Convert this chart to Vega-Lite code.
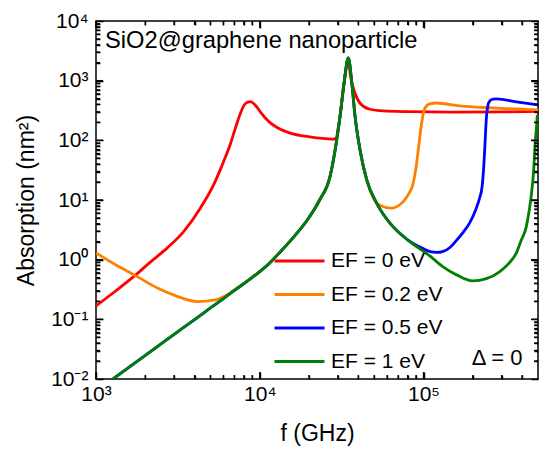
{
  "$schema": "https://vega.github.io/schema/vega-lite/v6.json",
  "width": 442,
  "height": 358,
  "autosize": {"type": "none"},
  "padding": {"left": 96, "top": 21, "right": 6, "bottom": 70},
  "background": "white",
  "config": {
    "font": "Liberation Sans",
    "view": {"stroke": "black", "strokeWidth": 1.5},
    "axis": {"domain": false, "ticks": false, "zindex": 1, "gridColor": "#000000", "gridOpacity": 1, "gridWidth": 1.4, "labelColor": "black", "titleColor": "black", "labelFont": "Liberation Sans", "titleFont": "Liberation Sans", "titleFontWeight": "normal", "labelFlush": false, "labelOverlap": false},
    "legend": {"orient": "none", "legendX": 177, "legendY": 225, "padding": 0, "labelFontSize": 21, "labelFont": "Liberation Sans", "labelColor": "black", "symbolType": "stroke", "symbolSize": 2500, "symbolStrokeWidth": 2.8, "labelOffset": 5, "clipHeight": 30, "rowPadding": 3.5, "labelLimit": 0}
  },
  "datasets": {
    "xmajor": [{"t": 1000}, {"t": 10000}, {"t": 100000}],
    "xminor": [{"t": 2000}, {"t": 3000}, {"t": 4000}, {"t": 5000}, {"t": 6000}, {"t": 7000}, {"t": 8000}, {"t": 9000}, {"t": 20000}, {"t": 30000}, {"t": 40000}, {"t": 50000}, {"t": 60000}, {"t": 70000}, {"t": 80000}, {"t": 90000}, {"t": 200000}, {"t": 300000}, {"t": 400000}],
    "ymajor": [{"t": 0.1}, {"t": 1}, {"t": 10}, {"t": 100}, {"t": 1000}],
    "yminor": [{"t": 0.02}, {"t": 0.03}, {"t": 0.04}, {"t": 0.05}, {"t": 0.06}, {"t": 0.07}, {"t": 0.08}, {"t": 0.09}, {"t": 0.2}, {"t": 0.3}, {"t": 0.4}, {"t": 0.5}, {"t": 0.6}, {"t": 0.7}, {"t": 0.8}, {"t": 0.9}, {"t": 2}, {"t": 3}, {"t": 4}, {"t": 5}, {"t": 6}, {"t": 7}, {"t": 8}, {"t": 9}, {"t": 20}, {"t": 30}, {"t": 40}, {"t": 50}, {"t": 60}, {"t": 70}, {"t": 80}, {"t": 90}, {"t": 200}, {"t": 300}, {"t": 400}, {"t": 500}, {"t": 600}, {"t": 700}, {"t": 800}, {"t": 900}, {"t": 2000}, {"t": 3000}, {"t": 4000}, {"t": 5000}, {"t": 6000}, {"t": 7000}, {"t": 8000}, {"t": 9000}],
    "curves": [
      {"series": "EF = 0 eV", "f": 1000, "A": 0.168},
      {"series": "EF = 0 eV", "f": 1300, "A": 0.29},
      {"series": "EF = 0 eV", "f": 1740, "A": 0.55},
      {"series": "EF = 0 eV", "f": 2146, "A": 0.91},
      {"series": "EF = 0 eV", "f": 2716, "A": 1.56},
      {"series": "EF = 0 eV", "f": 3428, "A": 2.96},
      {"series": "EF = 0 eV", "f": 4335, "A": 7.3},
      {"series": "EF = 0 eV", "f": 5224, "A": 17.9},
      {"series": "EF = 0 eV", "f": 6012, "A": 44},
      {"series": "EF = 0 eV", "f": 6607, "A": 86},
      {"series": "EF = 0 eV", "f": 7086, "A": 158},
      {"series": "EF = 0 eV", "f": 7603, "A": 280},
      {"series": "EF = 0 eV", "f": 8152, "A": 410},
      {"series": "EF = 0 eV", "f": 8743, "A": 445},
      {"series": "EF = 0 eV", "f": 9375, "A": 392},
      {"series": "EF = 0 eV", "f": 10060, "A": 303},
      {"series": "EF = 0 eV", "f": 11000, "A": 225},
      {"series": "EF = 0 eV", "f": 11500, "A": 200},
      {"series": "EF = 0 eV", "f": 13000, "A": 160},
      {"series": "EF = 0 eV", "f": 15200, "A": 133},
      {"series": "EF = 0 eV", "f": 20200, "A": 114},
      {"series": "EF = 0 eV", "f": 27900, "A": 105},
      {"series": "EF = 0 eV", "f": 29300, "A": 108},
      {"series": "EF = 0 eV", "f": 30000, "A": 150},
      {"series": "EF = 0 eV", "f": 30900, "A": 250},
      {"series": "EF = 0 eV", "f": 32700, "A": 903},
      {"series": "EF = 0 eV", "f": 34740, "A": 2400},
      {"series": "EF = 0 eV", "f": 35600, "A": 1330},
      {"series": "EF = 0 eV", "f": 38200, "A": 615},
      {"series": "EF = 0 eV", "f": 40960, "A": 418},
      {"series": "EF = 0 eV", "f": 47100, "A": 332},
      {"series": "EF = 0 eV", "f": 56800, "A": 311},
      {"series": "EF = 0 eV", "f": 80000, "A": 303},
      {"series": "EF = 0 eV", "f": 150000, "A": 298},
      {"series": "EF = 0 eV", "f": 300000, "A": 300},
      {"series": "EF = 0 eV", "f": 500000, "A": 305},

      {"series": "EF = 0.2 eV", "f": 1000, "A": 1.3},
      {"series": "EF = 0.2 eV", "f": 1280, "A": 0.86},
      {"series": "EF = 0.2 eV", "f": 1740, "A": 0.54},
      {"series": "EF = 0.2 eV", "f": 2370, "A": 0.335},
      {"series": "EF = 0.2 eV", "f": 3050, "A": 0.25},
      {"series": "EF = 0.2 eV", "f": 4160, "A": 0.198},
      {"series": "EF = 0.2 eV", "f": 5360, "A": 0.212},
      {"series": "EF = 0.2 eV", "f": 6610, "A": 0.278},
      {"series": "EF = 0.2 eV", "f": 7550, "A": 0.36},
      {"series": "EF = 0.2 eV", "f": 8500, "A": 0.45},
      {"series": "EF = 0.2 eV", "f": 10000, "A": 0.63},
      {"series": "EF = 0.2 eV", "f": 11500, "A": 0.88},
      {"series": "EF = 0.2 eV", "f": 13500, "A": 1.4},
      {"series": "EF = 0.2 eV", "f": 15900, "A": 2.3},
      {"series": "EF = 0.2 eV", "f": 19600, "A": 4.7},
      {"series": "EF = 0.2 eV", "f": 23200, "A": 10},
      {"series": "EF = 0.2 eV", "f": 26850, "A": 24.7},
      {"series": "EF = 0.2 eV", "f": 28850, "A": 69},
      {"series": "EF = 0.2 eV", "f": 30900, "A": 250},
      {"series": "EF = 0.2 eV", "f": 32700, "A": 903},
      {"series": "EF = 0.2 eV", "f": 34740, "A": 2400},
      {"series": "EF = 0.2 eV", "f": 36500, "A": 903},
      {"series": "EF = 0.2 eV", "f": 38200, "A": 250},
      {"series": "EF = 0.2 eV", "f": 40960, "A": 69},
      {"series": "EF = 0.2 eV", "f": 45000, "A": 21.7},
      {"series": "EF = 0.2 eV", "f": 51800, "A": 8.8},
      {"series": "EF = 0.2 eV", "f": 55000, "A": 8.0},
      {"series": "EF = 0.2 eV", "f": 58500, "A": 7.5},
      {"series": "EF = 0.2 eV", "f": 63800, "A": 7.3},
      {"series": "EF = 0.2 eV", "f": 69500, "A": 7.9},
      {"series": "EF = 0.2 eV", "f": 75200, "A": 9.4},
      {"series": "EF = 0.2 eV", "f": 81000, "A": 12.5},
      {"series": "EF = 0.2 eV", "f": 86500, "A": 19.1},
      {"series": "EF = 0.2 eV", "f": 90000, "A": 35},
      {"series": "EF = 0.2 eV", "f": 92900, "A": 69},
      {"series": "EF = 0.2 eV", "f": 97300, "A": 193},
      {"series": "EF = 0.2 eV", "f": 101900, "A": 345},
      {"series": "EF = 0.2 eV", "f": 109000, "A": 408},
      {"series": "EF = 0.2 eV", "f": 120000, "A": 422},
      {"series": "EF = 0.2 eV", "f": 166000, "A": 377},
      {"series": "EF = 0.2 eV", "f": 264000, "A": 349},
      {"series": "EF = 0.2 eV", "f": 500000, "A": 323},

      {"series": "EF = 0.5 eV", "f": 1000, "A": 0.0062},
      {"series": "EF = 0.5 eV", "f": 1270, "A": 0.01},
      {"series": "EF = 0.5 eV", "f": 2000, "A": 0.025},
      {"series": "EF = 0.5 eV", "f": 3000, "A": 0.056},
      {"series": "EF = 0.5 eV", "f": 4000, "A": 0.099},
      {"series": "EF = 0.5 eV", "f": 5000, "A": 0.155},
      {"series": "EF = 0.5 eV", "f": 6000, "A": 0.223},
      {"series": "EF = 0.5 eV", "f": 7550, "A": 0.355},
      {"series": "EF = 0.5 eV", "f": 8500, "A": 0.45},
      {"series": "EF = 0.5 eV", "f": 10000, "A": 0.63},
      {"series": "EF = 0.5 eV", "f": 11500, "A": 0.88},
      {"series": "EF = 0.5 eV", "f": 13500, "A": 1.4},
      {"series": "EF = 0.5 eV", "f": 15900, "A": 2.3},
      {"series": "EF = 0.5 eV", "f": 19600, "A": 4.7},
      {"series": "EF = 0.5 eV", "f": 23200, "A": 10},
      {"series": "EF = 0.5 eV", "f": 26850, "A": 24.7},
      {"series": "EF = 0.5 eV", "f": 28850, "A": 69},
      {"series": "EF = 0.5 eV", "f": 30900, "A": 250},
      {"series": "EF = 0.5 eV", "f": 32700, "A": 903},
      {"series": "EF = 0.5 eV", "f": 34740, "A": 2400},
      {"series": "EF = 0.5 eV", "f": 36500, "A": 903},
      {"series": "EF = 0.5 eV", "f": 38200, "A": 250},
      {"series": "EF = 0.5 eV", "f": 40960, "A": 69},
      {"series": "EF = 0.5 eV", "f": 45000, "A": 21.7},
      {"series": "EF = 0.5 eV", "f": 51800, "A": 8.8},
      {"series": "EF = 0.5 eV", "f": 62400, "A": 4.08},
      {"series": "EF = 0.5 eV", "f": 80000, "A": 2.15},
      {"series": "EF = 0.5 eV", "f": 98600, "A": 1.55},
      {"series": "EF = 0.5 eV", "f": 110000, "A": 1.36},
      {"series": "EF = 0.5 eV", "f": 120000, "A": 1.32},
      {"series": "EF = 0.5 eV", "f": 132000, "A": 1.38},
      {"series": "EF = 0.5 eV", "f": 145000, "A": 1.6},
      {"series": "EF = 0.5 eV", "f": 159000, "A": 2.1},
      {"series": "EF = 0.5 eV", "f": 175000, "A": 2.9},
      {"series": "EF = 0.5 eV", "f": 191000, "A": 4.1},
      {"series": "EF = 0.5 eV", "f": 208000, "A": 6.8},
      {"series": "EF = 0.5 eV", "f": 220000, "A": 10.8},
      {"series": "EF = 0.5 eV", "f": 228000, "A": 17},
      {"series": "EF = 0.5 eV", "f": 233000, "A": 35},
      {"series": "EF = 0.5 eV", "f": 237000, "A": 80},
      {"series": "EF = 0.5 eV", "f": 241000, "A": 200},
      {"series": "EF = 0.5 eV", "f": 246000, "A": 360},
      {"series": "EF = 0.5 eV", "f": 252000, "A": 445},
      {"series": "EF = 0.5 eV", "f": 265000, "A": 490},
      {"series": "EF = 0.5 eV", "f": 279000, "A": 495},
      {"series": "EF = 0.5 eV", "f": 369000, "A": 440},
      {"series": "EF = 0.5 eV", "f": 500000, "A": 392},

      {"series": "EF = 1 eV", "f": 1000, "A": 0.0062},
      {"series": "EF = 1 eV", "f": 1270, "A": 0.01},
      {"series": "EF = 1 eV", "f": 2000, "A": 0.025},
      {"series": "EF = 1 eV", "f": 3000, "A": 0.056},
      {"series": "EF = 1 eV", "f": 4000, "A": 0.099},
      {"series": "EF = 1 eV", "f": 5000, "A": 0.155},
      {"series": "EF = 1 eV", "f": 6000, "A": 0.223},
      {"series": "EF = 1 eV", "f": 7550, "A": 0.355},
      {"series": "EF = 1 eV", "f": 8500, "A": 0.45},
      {"series": "EF = 1 eV", "f": 10000, "A": 0.63},
      {"series": "EF = 1 eV", "f": 11500, "A": 0.88},
      {"series": "EF = 1 eV", "f": 13500, "A": 1.4},
      {"series": "EF = 1 eV", "f": 15900, "A": 2.3},
      {"series": "EF = 1 eV", "f": 19600, "A": 4.7},
      {"series": "EF = 1 eV", "f": 23200, "A": 10},
      {"series": "EF = 1 eV", "f": 26850, "A": 24.7},
      {"series": "EF = 1 eV", "f": 28850, "A": 69},
      {"series": "EF = 1 eV", "f": 30900, "A": 250},
      {"series": "EF = 1 eV", "f": 32700, "A": 903},
      {"series": "EF = 1 eV", "f": 34740, "A": 2400},
      {"series": "EF = 1 eV", "f": 36500, "A": 903},
      {"series": "EF = 1 eV", "f": 38200, "A": 250},
      {"series": "EF = 1 eV", "f": 40960, "A": 69},
      {"series": "EF = 1 eV", "f": 45000, "A": 21.7},
      {"series": "EF = 1 eV", "f": 51800, "A": 8.8},
      {"series": "EF = 1 eV", "f": 62400, "A": 4.08},
      {"series": "EF = 1 eV", "f": 80000, "A": 2.15},
      {"series": "EF = 1 eV", "f": 109000, "A": 1.16},
      {"series": "EF = 1 eV", "f": 131000, "A": 0.766},
      {"series": "EF = 1 eV", "f": 159000, "A": 0.556},
      {"series": "EF = 1 eV", "f": 199000, "A": 0.44},
      {"series": "EF = 1 eV", "f": 242000, "A": 0.48},
      {"series": "EF = 1 eV", "f": 291000, "A": 0.625},
      {"series": "EF = 1 eV", "f": 334000, "A": 0.88},
      {"series": "EF = 1 eV", "f": 369000, "A": 1.3},
      {"series": "EF = 1 eV", "f": 396000, "A": 2.15},
      {"series": "EF = 1 eV", "f": 424000, "A": 3.54},
      {"series": "EF = 1 eV", "f": 432000, "A": 4.6},
      {"series": "EF = 1 eV", "f": 454000, "A": 11.4},
      {"series": "EF = 1 eV", "f": 469000, "A": 28},
      {"series": "EF = 1 eV", "f": 482000, "A": 102},
      {"series": "EF = 1 eV", "f": 489000, "A": 160},
      {"series": "EF = 1 eV", "f": 495000, "A": 266}
    ]
  },
  "layer": [
    {
      "data": {"name": "curves"},
      "mark": {"type": "line", "strokeWidth": 2.8, "interpolate": "monotone", "clip": true},
      "encoding": {
        "x": {"field": "f", "type": "quantitative",
          "scale": {"type": "log", "domain": [1000, 500000], "nice": false},
          "axis": {"orient": "bottom", "values": [1000, 10000, 100000], "ticks": false, "grid": true, "gridDash": [7, 344, 7, 1000], "labelPadding": 4, "labelFontSize": 21,
            "labelExpr": "datum.value < 5000 ? '10³' : datum.value < 50000 ? '10⁴' : '10⁵'",
            "title": "f (GHz)", "titleFontSize": 23, "titlePadding": 18}},
        "y": {"field": "A", "type": "quantitative",
          "scale": {"type": "log", "domain": [0.01, 10000], "nice": false},
          "axis": {"orient": "left", "values": [0.01, 0.1, 1, 10, 100, 1000, 10000], "ticks": false, "grid": true, "gridDash": [7, 428, 7, 1000], "labelPadding": 8, "labelFontSize": 21,
            "labelExpr": "datum.value < 0.05 ? '10⁻²' : datum.value < 0.5 ? '10⁻¹' : datum.value < 5 ? '10⁰' : datum.value < 50 ? '10¹' : datum.value < 500 ? '10²' : datum.value < 5000 ? '10³' : '10⁴'",
            "title": "Absorption (nm²)", "titleFontSize": 23, "titlePadding": 12}},
        "color": {"field": "series", "type": "nominal",
          "scale": {"domain": ["EF = 0 eV", "EF = 0.2 eV", "EF = 0.5 eV", "EF = 1 eV"], "range": ["#ff0000", "#ff8000", "#0000ff", "#008000"]},
          "legend": {"title": null}}
      }
    },
    {
      "data": {"name": "xmajor"},
      "layer": [
        {"mark": {"type": "tick", "orient": "vertical", "size": 7, "thickness": 1.4, "color": "black", "opacity": 1, "yOffset": -3.5},
         "encoding": {"x": {"field": "t", "type": "quantitative", "axis": null}, "y": {"datum": 0.01, "type": "quantitative", "axis": null}}},
        {"mark": {"type": "tick", "orient": "vertical", "size": 7, "thickness": 1.4, "color": "black", "opacity": 1, "yOffset": 3.5},
         "encoding": {"x": {"field": "t", "type": "quantitative", "axis": null}, "y": {"datum": 10000, "type": "quantitative", "axis": null}}}
      ]
    },
    {
      "data": {"name": "xminor"},
      "layer": [
        {"mark": {"type": "tick", "orient": "vertical", "size": 4, "thickness": 1.4, "color": "black", "opacity": 1, "yOffset": -2},
         "encoding": {"x": {"field": "t", "type": "quantitative", "axis": null}, "y": {"datum": 0.01, "type": "quantitative", "axis": null}}},
        {"mark": {"type": "tick", "orient": "vertical", "size": 4, "thickness": 1.4, "color": "black", "opacity": 1, "yOffset": 2},
         "encoding": {"x": {"field": "t", "type": "quantitative", "axis": null}, "y": {"datum": 10000, "type": "quantitative", "axis": null}}}
      ]
    },
    {
      "data": {"name": "ymajor"},
      "layer": [
        {"mark": {"type": "tick", "orient": "horizontal", "size": 7, "thickness": 1.4, "color": "black", "opacity": 1, "xOffset": 3.5},
         "encoding": {"y": {"field": "t", "type": "quantitative", "axis": null}, "x": {"datum": 1000, "type": "quantitative", "axis": null}}},
        {"mark": {"type": "tick", "orient": "horizontal", "size": 7, "thickness": 1.4, "color": "black", "opacity": 1, "xOffset": -3.5},
         "encoding": {"y": {"field": "t", "type": "quantitative", "axis": null}, "x": {"datum": 500000, "type": "quantitative", "axis": null}}}
      ]
    },
    {
      "data": {"name": "yminor"},
      "layer": [
        {"mark": {"type": "tick", "orient": "horizontal", "size": 4, "thickness": 1.4, "color": "black", "opacity": 1, "xOffset": 2},
         "encoding": {"y": {"field": "t", "type": "quantitative", "axis": null}, "x": {"datum": 1000, "type": "quantitative", "axis": null}}},
        {"mark": {"type": "tick", "orient": "horizontal", "size": 4, "thickness": 1.4, "color": "black", "opacity": 1, "xOffset": -2},
         "encoding": {"y": {"field": "t", "type": "quantitative", "axis": null}, "x": {"datum": 500000, "type": "quantitative", "axis": null}}}
      ]
    },
    {
      "data": {"values": [{}]},
      "mark": {"type": "text", "align": "left", "baseline": "alphabetic", "fontSize": 23.7, "font": "Liberation Sans", "color": "black", "text": "SiO2@graphene nanoparticle"},
      "encoding": {
        "x": {"datum": 1135, "type": "quantitative",
          "axis": {"orient": "bottom", "values": [2000, 3000, 4000, 5000, 6000, 7000, 8000, 9000, 20000, 30000, 40000, 50000, 60000, 70000, 80000, 90000, 200000, 300000, 400000], "ticks": false, "labels": false, "title": null, "grid": true, "gridDash": [4, 350, 4, 1000]}},
        "y": {"datum": 3530, "type": "quantitative",
          "axis": {"orient": "left", "values": [0.02, 0.03, 0.04, 0.05, 0.06, 0.07, 0.08, 0.09, 0.2, 0.3, 0.4, 0.5, 0.6, 0.7, 0.8, 0.9, 2, 3, 4, 5, 6, 7, 8, 9, 20, 30, 40, 50, 60, 70, 80, 90, 200, 300, 400, 500, 600, 700, 800, 900, 2000, 3000, 4000, 5000, 6000, 7000, 8000, 9000], "ticks": false, "labels": false, "title": null, "grid": true, "gridDash": [4, 434, 4, 1000]}}
      }
    },
    {
      "data": {"values": [{}]},
      "mark": {"type": "text", "align": "left", "baseline": "alphabetic", "fontSize": 22, "font": "Liberation Sans", "color": "black", "text": "Δ = 0"},
      "encoding": {
        "x": {"datum": 197000, "type": "quantitative", "axis": null},
        "y": {"datum": 0.0173, "type": "quantitative", "axis": null}
      }
    }
  ],
  "resolve": {"axis": {"x": "independent", "y": "independent"}}
}
